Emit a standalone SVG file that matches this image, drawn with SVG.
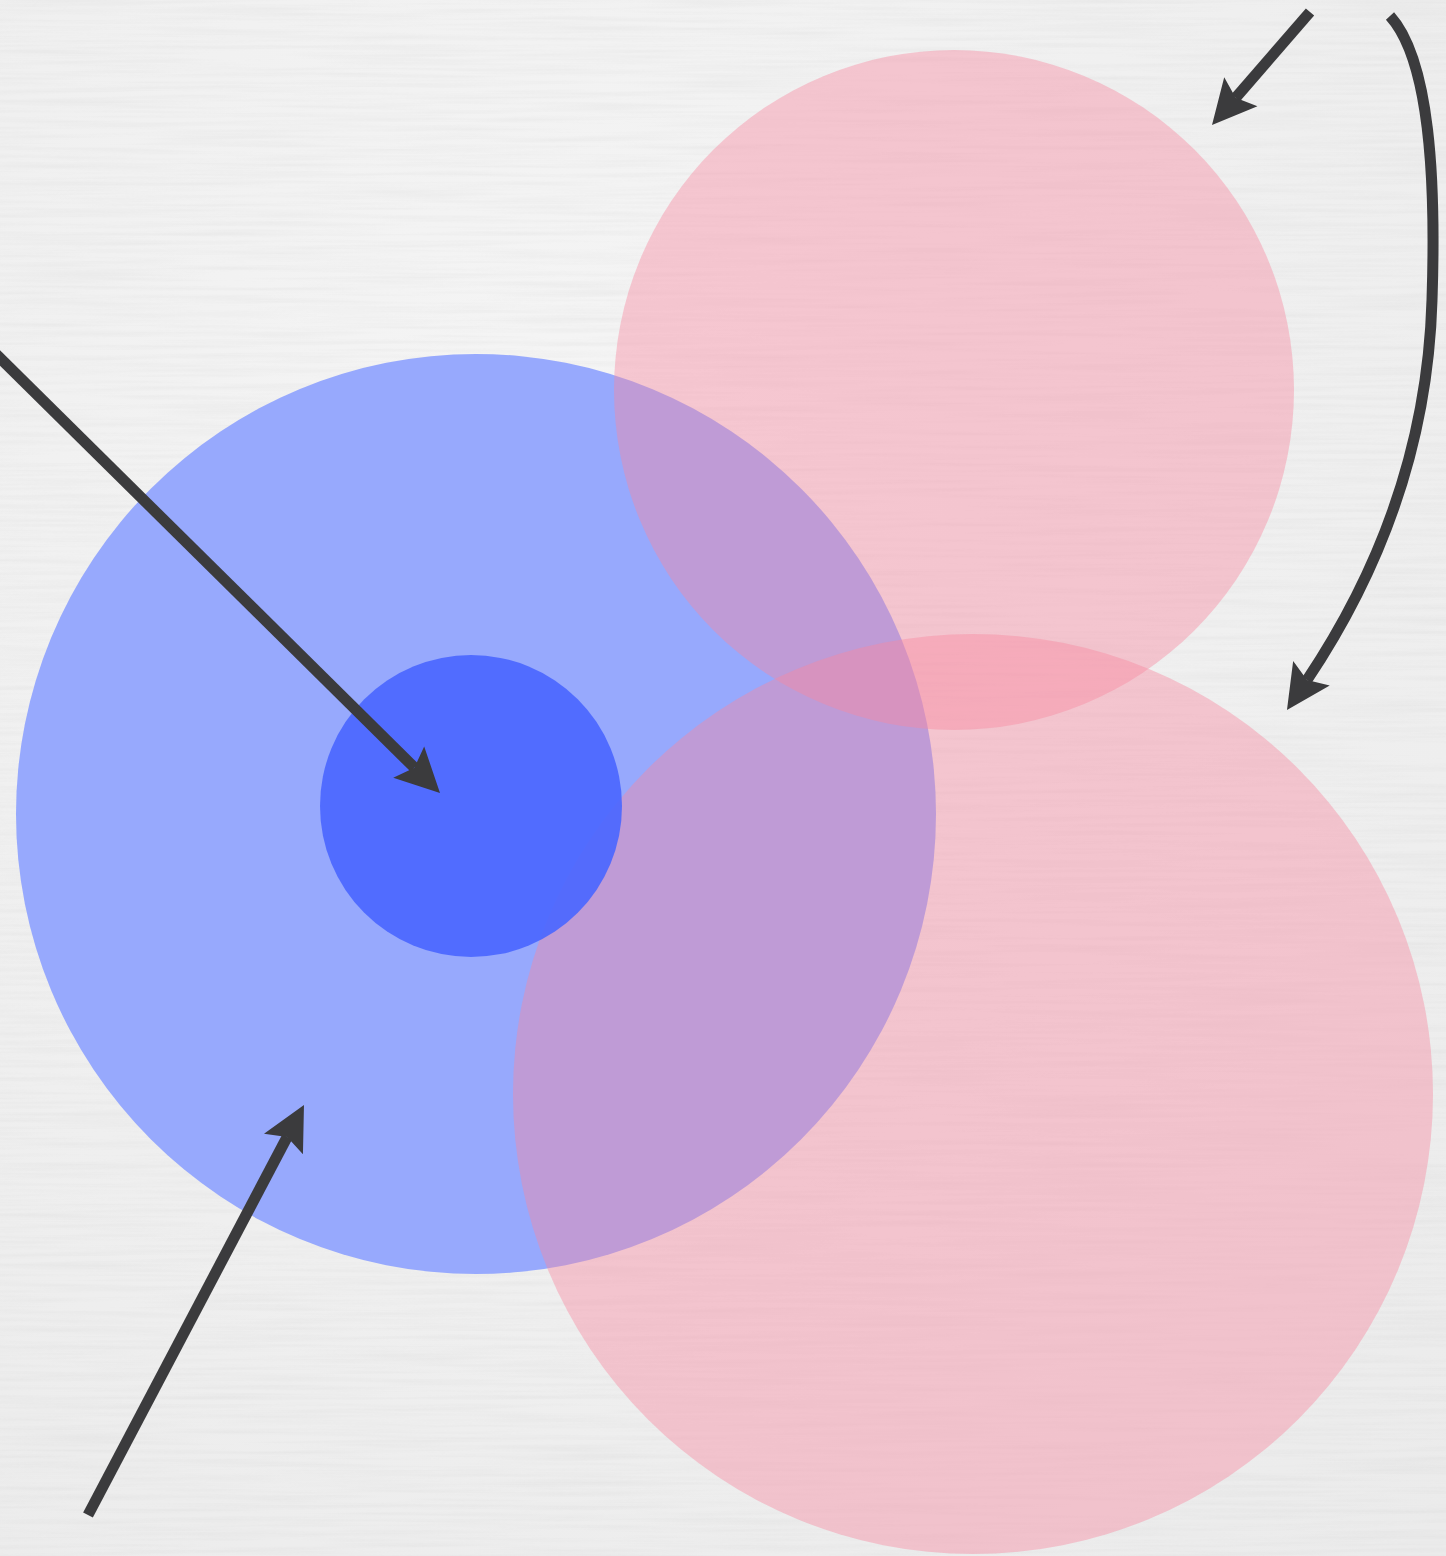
<svg xmlns="http://www.w3.org/2000/svg" width="1446" height="1556" viewBox="0 0 1446 1556">
  <style>
    .pink { fill: #f7879f; fill-opacity: 0.42; }
    .outer { fill: #97a9fd; }
    .inner { fill: #4b67ff; fill-opacity: 0.92; }
    .conn { fill: none; stroke: #3b3b3d; stroke-width: 11; stroke-linecap: butt; }
  </style>
  <defs>
    <marker id="arrow" markerUnits="userSpaceOnUse" markerWidth="70" markerHeight="70" refX="0" refY="0" viewBox="-25 -35 70 70" orient="auto" overflow="visible">
      <path d="M36,0 L-8,-22 L0,0 L-8,22 Z" fill="#3b3b3d"/>
    </marker>
    <radialGradient id="vig" cx="0.4" cy="0.3" r="0.9">
      <stop offset="0" stop-color="#f5f5f5"/>
      <stop offset="1" stop-color="#ebebeb"/>
    </radialGradient>
    <filter id="paper" x="0" y="0" width="100%" height="100%">
      <feTurbulence type="fractalNoise" baseFrequency="0.006 0.22" numOctaves="3" seed="4" result="n"/>
      <feColorMatrix in="n" type="matrix" values="0 0 0 0 0.5  0 0 0 0 0.5  0 0 0 0 0.5  0 0 0 -1.6 1.0" result="g"/>
      <feComposite in="g" in2="SourceGraphic" operator="in"/>
    </filter>
  </defs>
  <rect id="background" width="1446" height="1556" fill="url(#vig)"/>
  <rect width="1446" height="1556" fill="#ffffff" filter="url(#paper)" opacity="0.15"/>

  <g id="blue-circle"><circle class="outer" cx="476" cy="814" r="460"/></g>
  <g id="pink-top"><circle class="pink" cx="954" cy="390" r="340"/></g>
  <g id="pink-bottom"><circle class="pink" cx="973" cy="1094" r="460"/></g>
  <g id="inner-circle"><circle class="inner" cx="471" cy="806" r="151"/></g>

  <g id="connectors">
    <path class="conn" d="M-5,353 L414.4,767.7" marker-end="url(#arrow)"/>
    <path class="conn" d="M88,1515 L287.2,1136.9" marker-end="url(#arrow)"/>
    <path class="conn" d="M1310,12 L1235.6,97.8" marker-end="url(#arrow)"/>
    <path class="conn" d="M1390,16 C1430,60 1436,180 1432,300 C1428,440 1382,568 1307,680" marker-end="url(#arrow)"/>
  </g>
</svg>
